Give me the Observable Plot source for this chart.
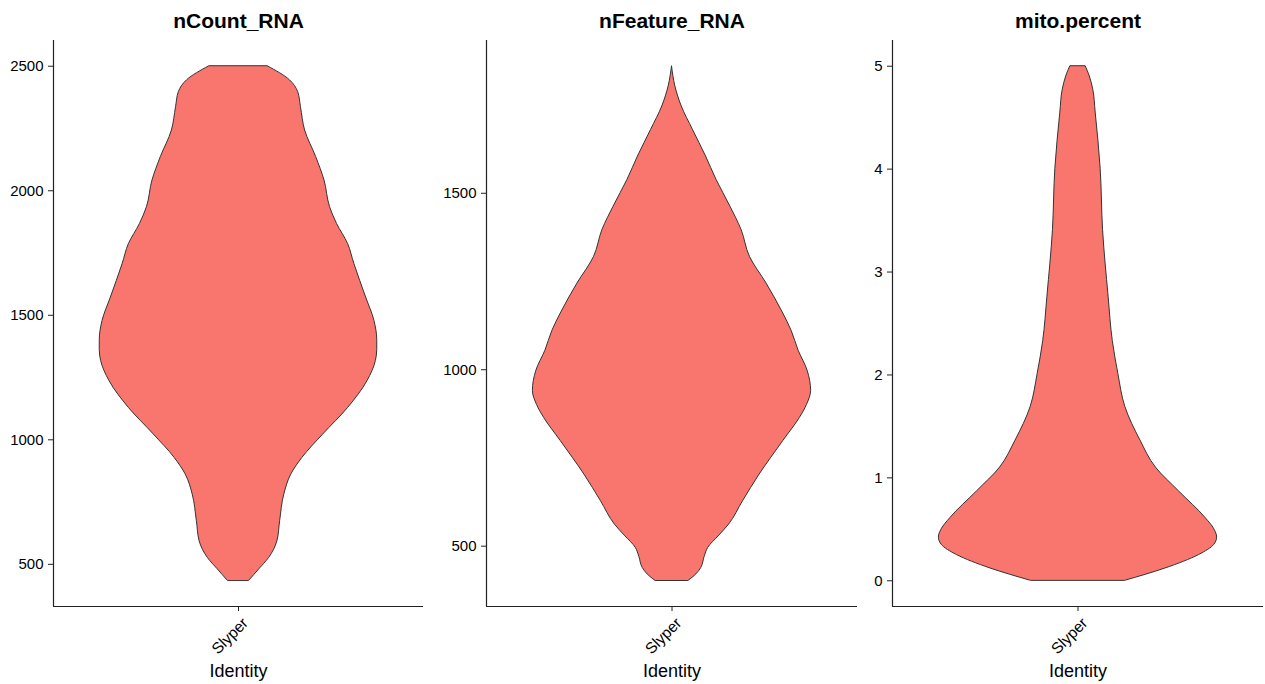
<!DOCTYPE html>
<html>
<head>
<meta charset="utf-8">
<script src="https://cdn.jsdelivr.net/npm/d3@7"></script>
<script src="https://cdn.jsdelivr.net/npm/@observablehq/plot@0.6"></script>
<style>
  html, body { margin: 0; padding: 0; background: #fff; }
  #row { display: flex; width: 1265px; height: 684px; font-family: "Liberation Sans", Arial, sans-serif; }
  #row > div { flex: none; }
</style>
</head>
<body>
<div id="row"></div>
<script>
// ---- data ----
const category = "Slyper";
const xLabel = "Identity";
const panelTitles = ["nCount_RNA", "nFeature_RNA", "mito.percent"];

// violin outlines: value along y, relative half-width (1 = widest)
const ncountValues = [434, 480, 525, 592, 673, 780, 860, 927, 1021, 1128, 1236, 1316, 1360, 1400, 1477, 1571, 1706, 1786, 1867, 1934, 2041, 2135, 2242, 2336, 2396, 2444, 2500];
const ncountWidths = [0.077, 0.15, 0.22, 0.28, 0.30, 0.33, 0.38, 0.46, 0.61, 0.79, 0.93, 0.99, 1.0, 1.0, 0.98, 0.92, 0.835, 0.79, 0.71, 0.66, 0.62, 0.56, 0.48, 0.45, 0.43, 0.37, 0.21];

const nfeatureValues = [402, 420, 438, 470, 495, 530, 561, 627, 703, 798, 864, 900, 940, 997, 1054, 1110, 1159, 1244, 1320, 1396, 1462, 1538, 1604, 1680, 1746, 1803, 1860];
const nfeatureWidths = [0.12, 0.175, 0.21, 0.235, 0.26, 0.34, 0.41, 0.51, 0.63, 0.80, 0.92, 0.97, 1.0, 0.975, 0.91, 0.86, 0.80, 0.68, 0.56, 0.50, 0.42, 0.32, 0.245, 0.15, 0.07, 0.024, 0.0];

const mitoValues = [0, 0.12, 0.25, 0.35, 0.42, 0.5, 0.61, 0.87, 1.10, 1.36, 1.69, 2.01, 2.33, 2.76, 3.41, 4.0, 4.55, 4.77, 4.9, 5.0];
const mitoWidths = [0.34, 0.63, 0.87, 0.98, 1.0, 0.98, 0.917, 0.725, 0.56, 0.45, 0.34, 0.29, 0.25, 0.22, 0.18, 0.163, 0.127, 0.11, 0.085, 0.055];

const ncountTicks = [500, 1000, 1500, 2000, 2500];
const nfeatureTicks = [500, 1000, 1500];
const mitoTicks = [0, 1, 2, 3, 4, 5];

const fillColor = "#F8766D";

// ---- layout of the three panels ----
const panels = [
  {title: panelTitles[0], values: ncountValues, widths: ncountWidths, ticks: ncountTicks, width: 430, ml: 53, mr: 7},
  {title: panelTitles[1], values: nfeatureValues, widths: nfeatureWidths, ticks: nfeatureTicks, width: 430, ml: 56, mr: 3},
  {title: panelTitles[2], values: mitoValues, widths: mitoWidths, ticks: mitoTicks, width: 405, ml: 32, mr: 2}
];

const row = document.getElementById("row");

for (const p of panels) {
  const data = p.values.map((v, i) => ({v, w: p.widths[i], cat: category}));
  const lo = d3.min(p.values), hi = d3.max(p.values);
  const pad = (hi - lo) * 0.05;
  const yDomain = [lo - pad, hi + pad];
  const xDomain = [0.4, 1.6];

  const chart = Plot.plot({
    width: p.width,
    height: 684,
    marginTop: 40,
    marginBottom: 78,
    marginLeft: p.ml,
    marginRight: p.mr,
    style: {fontFamily: "'Liberation Sans', Arial, sans-serif", color: "#000", background: "#fff"},
    x: {domain: xDomain, axis: null},
    y: {domain: yDomain, axis: null},
    marks: [
      Plot.areaX(data, {
        y: "v",
        x1: d => 1 - 0.45 * d.w,
        x2: d => 1 + 0.45 * d.w,
        curve: "monotone-y",
        fill: fillColor,
        stroke: "#333",
        strokeWidth: 1
      }),
      Plot.ruleX([xDomain[0]], {stroke: "#222", strokeWidth: 1.2}),
      Plot.ruleY([yDomain[0]], {stroke: "#222", strokeWidth: 1.2}),
      Plot.axisY({ticks: p.ticks, tickSize: 5, tickPadding: 5, fontSize: 15, label: null, stroke: "#222", tickFormat: d => String(d)}),
      Plot.axisX({ticks: [1], tickFormat: null, text: null, tickSize: 5, label: null, stroke: "#222"}),
      Plot.axisX({ticks: [1], tickFormat: () => category, tickSize: 0, tickPadding: 9, dx: 7, dy: 5, tickRotate: -45, fontSize: 15.5, label: null}),
      Plot.text([p.title], {frameAnchor: "top", dy: -27, fontSize: 21, fontWeight: "bold", fill: "#000"}),
      Plot.text([xLabel], {frameAnchor: "bottom", dy: 70, fontSize: 18, fill: "#000"})
    ]
  });
  const holder = document.createElement("div");
  holder.style.width = p.width + "px";
  holder.appendChild(chart);
  row.appendChild(holder);
}
</script>
</body>
</html>
